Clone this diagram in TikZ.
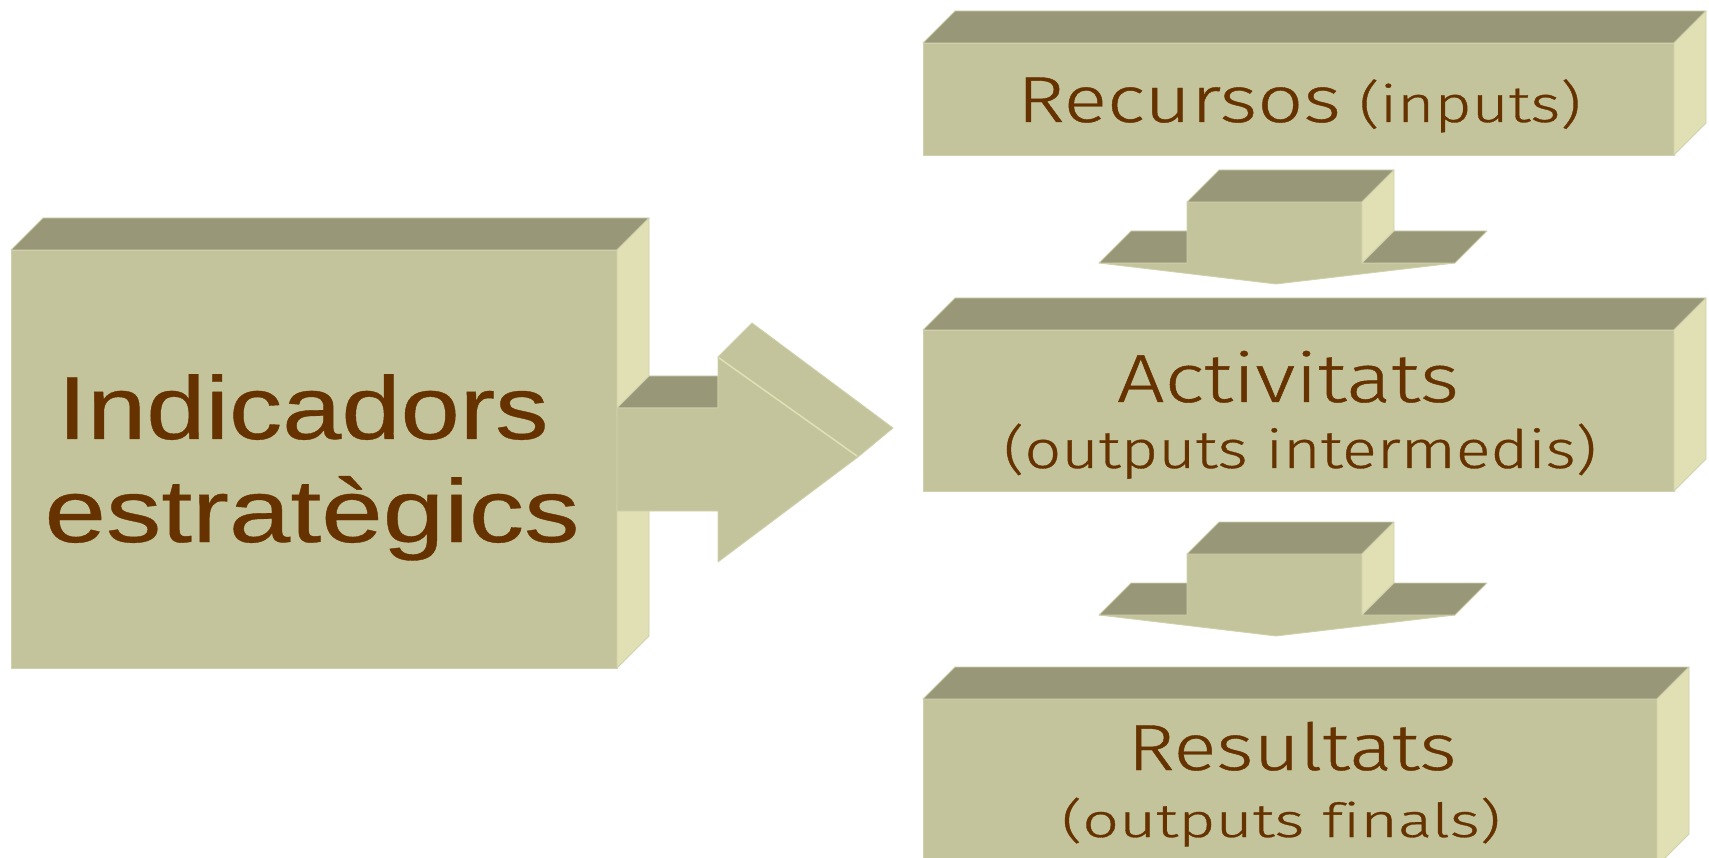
\documentclass[tikz,border=0pt]{standalone}
\usepackage{fontspec}
\setmainfont{Liberation Sans}
\newfontfamily\lfont[FakeBold=0.4]{Liberation Sans}
\newfontfamily\rfont[Ligatures=NoCommon,FakeBold=0.6]{Fira Sans Light}
\definecolor{frontc}{HTML}{C4C49C}
\definecolor{topc}{HTML}{989879}
\definecolor{sidec}{HTML}{E0E0B4}
\definecolor{txtc}{HTML}{663300}
\definecolor{edgec}{HTML}{D0D0AC}
\newcommand\cuboid[4]{%
  \filldraw[frontface] (#1,#2) rectangle (#3,#4);
  \filldraw[topface] (#1,#2) -- (#1+32,#2-32) -- (#3+32,#2-32) -- (#3,#2) -- cycle;
  \filldraw[sideface] (#3,#2) -- (#3+32,#2-32) -- (#3+32,#4-32) -- (#3,#4) -- cycle;
}
\newcommand\downarrowshape[1]{%
  \begin{scope}[shift={(0,#1)}]
  \filldraw[frontface] (1187,202) -- (1362,202) -- (1362,263) -- (1455,263) -- (1276,284)
     -- (1099,263) -- (1187,263) -- cycle;
  \filldraw[topface] (1187,202) -- (1219,170) -- (1394,170) -- (1362,202) -- cycle;
  \filldraw[sideface] (1362,202) -- (1394,170) -- (1394,231) -- (1362,263) -- cycle;
  \filldraw[topface] (1099,263) -- (1131,231) -- (1187,231) -- (1187,263) -- cycle;
  \filldraw[topface] (1362,263) -- (1394,231) -- (1487,231) -- (1455,263) -- cycle;
  \end{scope}
}
\begin{document}
\begin{tikzpicture}[x=1pt,y=-1pt,
  frontface/.style={fill=frontc, draw=edgec, line width=0.8pt, line join=round},
  topface/.style={fill=topc, draw=edgec, line width=0.8pt, line join=round},
  sideface/.style={fill=sidec, draw=edgec, line width=0.8pt, line join=round},
  lbl/.style={inner sep=0pt, outer sep=0pt, anchor=base, text=txtc}]
\useasboundingbox (0,0) rectangle (1709,858);
\fill[white] (0,0) rectangle (1709,858);

% left block
\cuboid{11}{250}{617}{668}
% right pointing arrow
\filldraw[topface] (617,408) -- (649,376) -- (718,376) -- (718,408) -- cycle;
\filldraw[frontface] (718,357) -- (752,323) -- (893,428) -- (858,457) -- cycle;
\filldraw[frontface] (617,408) -- (718,408) -- (718,357) -- (858,457) -- (718,562)
   -- (718,511) -- (617,511) -- cycle;
\draw[sidec, line width=1.5pt] (719,358) -- (857,456);

% right blocks
\cuboid{923}{43}{1674}{155}
\cuboid{923}{330}{1674}{491}
\cuboid{923}{699}{1657}{866}
\downarrowshape{0}
\downarrowshape{352}

% texts
\node[lbl] (ind1) at (303,439) {\resizebox{491pt}{\height}{\lfont\fontsize{89.4pt}{90pt}\selectfont Indicadors}};
\node[lbl] (ind2) at (312,542) {\resizebox{535pt}{\height}{\lfont\fontsize{89.4pt}{90pt}\selectfont estratègics}};
\node[lbl] (rec1) at (1179,122) {\resizebox{324pt}{\height}{\rfont\fontsize{65pt}{66pt}\selectfont Recursos}};
\node[lbl] (rec2) at (1470,122) {\resizebox{222pt}{\height}{\rfont\fontsize{51pt}{52pt}\selectfont (inputs)}};
\node[lbl] (act1) at (1288,402) {\resizebox{342pt}{\height}{\rfont\fontsize{68pt}{69pt}\selectfont Activitats}};
\node[lbl] (act2) at (1300,468) {\resizebox{593pt}{\height}{\rfont\fontsize{53pt}{54pt}\selectfont (outputs intermedis)}};
\node[lbl] (res1) at (1292,770) {\resizebox{329pt}{\height}{\rfont\fontsize{65pt}{66pt}\selectfont Resultats}};
\node[lbl] (res2) at (1281,837) {\resizebox{439pt}{\height}{\rfont\fontsize{47pt}{48pt}\selectfont (outputs finals)}};
\end{tikzpicture}
\end{document}
